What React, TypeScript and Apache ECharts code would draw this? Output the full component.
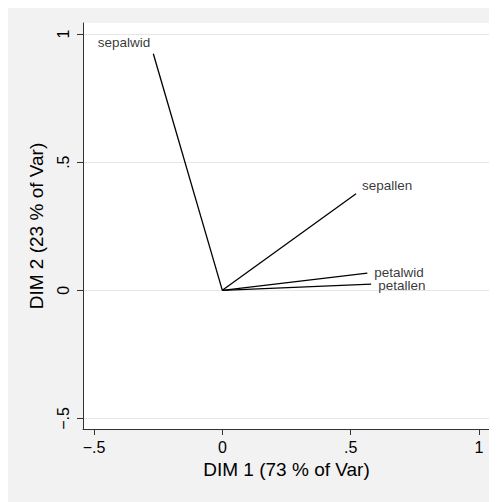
import React, { useEffect, useRef } from "react";
import * as echarts from "echarts";

const variables = ["sepallen", "sepalwid", "petallen", "petalwid"];
const dim1 = [0.521, -0.269, 0.58, 0.565];
const dim2 = [0.377, 0.923, 0.024, 0.067];
const tickValues = [-0.5, 0, 0.5, 1];
const tickLabels = ["\u2212.5", "0", ".5", "1"];
const xTitle = "DIM 1 (73 % of Var)";
const yTitle = "DIM 2 (23 % of Var)";

const labelPlacement: Record<string, any> = {
  sepallen: { position: "right", distance: 6, offset: [0, -8] },
  sepalwid: { position: "left", distance: 3, offset: [0, -11] },
  petallen: { position: "right", distance: 7, offset: [0, 1.5] },
  petalwid: { position: "right", distance: 7, offset: [0, -1] },
};

const fmt = (v: number) => {
  const i = tickValues.findIndex((t) => Math.abs(t - v) < 1e-9);
  return i >= 0 ? tickLabels[i] : "";
};

export default function App() {
  const ref = useRef<HTMLDivElement>(null);
  useEffect(() => {
    if (!ref.current) return;
    const chart = echarts.init(ref.current, undefined, { renderer: "svg" });
    const font = "'Liberation Sans', Arial, Helvetica, sans-serif";
    const axisCommon = {
      type: "value",
      nameLocation: "middle",
      nameTextStyle: { fontSize: 19, color: "#000", fontFamily: font },
      axisLine: { show: true, onZero: false, lineStyle: { color: "#333", width: 1 } },
      axisTick: { show: true, length: 6, customValues: tickValues, lineStyle: { color: "#333" } },
      axisLabel: {
        customValues: tickValues,
        formatter: fmt,
        fontSize: 16,
        color: "#000",
        fontFamily: font,
      },
    };
    chart.setOption({
      animation: false,
      backgroundColor: "#f2f2f2",
      grid: {
        left: 75,
        top: 18,
        right: 7,
        bottom: 73,
        show: true,
        backgroundColor: "#ffffff",
        borderWidth: 0,
      },
      xAxis: {
        ...axisCommon,
        min: -0.543,
        max: 1.043,
        name: xTitle,
        nameGap: 26,
        splitLine: { show: false },
        axisLabel: { ...axisCommon.axisLabel, margin: 10 },
      },
      yAxis: {
        ...axisCommon,
        min: -0.541,
        max: 1.043,
        name: yTitle,
        nameGap: 37,
        nameRotate: 90,
        splitLine: { show: true, lineStyle: { color: "#e6e6e6", width: 1 } },
        axisLabel: { ...axisCommon.axisLabel, rotate: 90, margin: 12 },
      },
      series: [
        ...variables.map((v, i) => ({
          type: "line",
          name: v,
          data: [
            [0, 0],
            [dim1[i], dim2[i]],
          ],
          symbol: "none",
          lineStyle: { color: "#000", width: 1.3 },
          silent: true,
        })),
        {
          type: "scatter",
          symbolSize: 0,
          data: variables.map((v, i) => ({
            name: v,
            value: [dim1[i], dim2[i]],
            label: labelPlacement[v],
          })),
          label: {
            show: true,
            formatter: "{b}",
            fontSize: 13.5,
            lineHeight: 12,
            color: "#000",
            fontFamily: font,
          },
        },
      ],
    });
    return () => chart.dispose();
  }, []);
  return <div ref={ref} style={{ width: 489, height: 497, marginTop: -3 }} />;
}
